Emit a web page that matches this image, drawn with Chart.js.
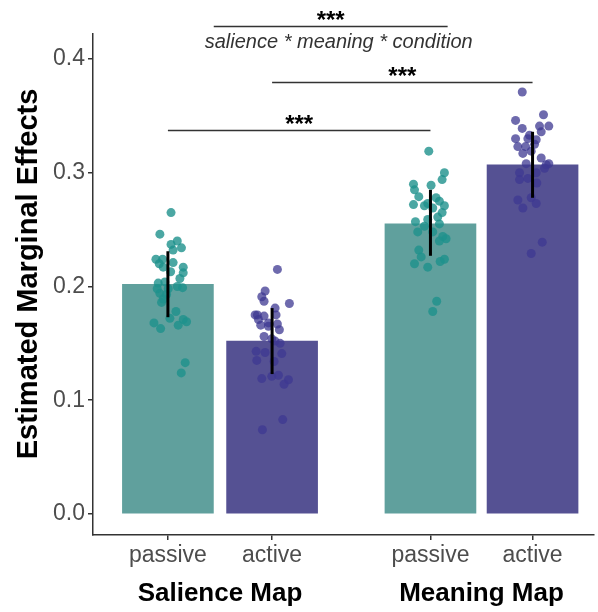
<!DOCTYPE html>
<html>
<head>
<meta charset="utf-8">
<script src="https://cdn.jsdelivr.net/npm/chart.js@4.4.1/dist/chart.umd.min.js"></script>
<style>
  html, body { margin: 0; padding: 0; background: #fff; }
</style>
</head>
<body>
<canvas id="myChart" width="598" height="612"></canvas>
<script>
// bars (estimated marginal means) and error bars
const mapNames = ['Salience Map', 'Meaning Map']
const condNames = ['passive', 'active', 'passive', 'active']
const means = [0.202, 0.152, 0.255, 0.307]
const errLow = [0.173, 0.123, 0.227, 0.278]
const errHigh = [0.231, 0.181, 0.285, 0.336]
const yTicks = [0.0, 0.1, 0.2, 0.3, 0.4]
const yTitle = 'Estimated Marginal Effects'

// per-subject points: value and horizontal jitter
const salPassiveY = [0.265, 0.246, 0.240, 0.237, 0.234, 0.232, 0.224, 0.224, 0.220, 0.221, 0.217, 0.217, 0.213, 0.212, 0.207, 0.203, 0.204, 0.200, 0.199, 0.194, 0.193, 0.189, 0.186, 0.178, 0.168, 0.163, 0.172, 0.171, 0.169, 0.166, 0.133, 0.124, 0.198, 0.198]
const salPassiveJit = [0.03, -0.077, 0.09, 0.03, 0.13, 0.05, -0.115, -0.051, -0.083, 0.05, -0.045, 0.147, 0.026, 0.147, 0.115, -0.093, -0.029, 0.09, 0.141, -0.077, -0.013, -0.045, -0.061, 0.077, -0.134, -0.07, 0.019, 0.147, 0.179, 0.099, 0.166, 0.128, -0.103, 0.003]
const salActiveY = [0.215, 0.196, 0.191, 0.187, 0.181, 0.185, 0.175, 0.174, 0.175, 0.171, 0.168, 0.166, 0.167, 0.162, 0.156, 0.154, 0.152, 0.150, 0.143, 0.142, 0.141, 0.135, 0.134, 0.119, 0.121, 0.122, 0.118, 0.114, 0.083, 0.074, 0.165, 0.175]
const salActiveJit = [0.051, -0.067, -0.099, -0.077, 0.029, 0.166, -0.163, -0.077, 0.038, -0.131, -0.035, -0.109, 0.051, 0.07, -0.077, -0.003, 0.029, 0.077, -0.153, -0.067, 0.093, -0.147, 0.019, -0.099, -0.003, 0.061, 0.157, 0.115, 0.102, -0.093, -0.035, -0.141]
const meanPassiveY = [0.319, 0.300, 0.294, 0.290, 0.289, 0.285, 0.279, 0.278, 0.275, 0.272, 0.271, 0.271, 0.269, 0.265, 0.261, 0.259, 0.257, 0.253, 0.255, 0.248, 0.248, 0.244, 0.242, 0.240, 0.232, 0.226, 0.224, 0.222, 0.220, 0.217, 0.187, 0.178, 0.273]
const meanPassiveJit = [-0.016, 0.134, 0.112, -0.163, 0.006, -0.153, -0.112, 0.054, 0.086, -0.163, -0.058, 0.134, 0.022, 0.112, 0.07, -0.026, -0.144, -0.058, 0.086, -0.122, 0.022, 0.118, 0.15, 0.086, -0.112, -0.089, 0.134, 0.093, -0.153, -0.026, 0.06, 0.022, -0.026]
const meanActiveY = [0.371, 0.351, 0.346, 0.341, 0.341, 0.339, 0.336, 0.330, 0.333, 0.329, 0.323, 0.323, 0.325, 0.317, 0.319, 0.313, 0.308, 0.307, 0.308, 0.300, 0.300, 0.304, 0.294, 0.295, 0.291, 0.276, 0.278, 0.273, 0.269, 0.239, 0.229, 0.330]
const meanActiveJit = [-0.099, 0.105, -0.163, 0.156, 0.067, -0.099, 0.083, -0.163, -0.029, 0.035, -0.141, -0.067, 0.019, -0.093, -0.013, 0.083, -0.061, 0.131, 0.156, -0.125, 0.035, 0.115, -0.125, -0.045, 0.041, -0.141, -0.013, 0.035, -0.093, 0.093, -0.013, -0.045]

// significance brackets
const sigLabels = ['***', '***', '***']
const sigFrom = [1.44, 2, 1]
const sigTo = [3.685, 4.5, 3.52]
const sigY = [0.429, 0.380, 0.338]
const termLabel = 'salience * meaning * condition'

const xSlot = [1, 2, 3.52, 4.5]
const FONT = "'Liberation Sans', Arial, Helvetica, sans-serif"
const barColors = ['#60a09d', '#555193', '#60a09d', '#555193']
const dotColors = ['rgba(30,145,140,0.8)', 'rgba(62,56,146,0.75)', 'rgba(30,145,140,0.8)', 'rgba(62,56,146,0.75)']

function dots(vals, jit, i) {
    return {
        type: 'scatter',
        data: vals.map((v, k) => ({ x: xSlot[i] + jit[k], y: v })),
        backgroundColor: dotColors[i],
        borderWidth: 0,
        pointRadius: 4.5,
        pointHoverRadius: 4.5,
        order: 1
    }
}

const extras = {
    id: 'extras',
    afterDatasetsDraw(chart) {
        const { ctx, scales: { x, y } } = chart
        ctx.save()
        ctx.strokeStyle = '#000'
        ctx.lineWidth = 3
        means.forEach((m, i) => {
            const px = x.getPixelForValue(xSlot[i])
            ctx.beginPath()
            ctx.moveTo(px, y.getPixelForValue(errLow[i]))
            ctx.lineTo(px, y.getPixelForValue(errHigh[i]))
            ctx.stroke()
        })
        ctx.restore()
    },
    afterDraw(chart) {
        const { ctx, scales: { x, y } } = chart
        ctx.save()
        ctx.textAlign = 'center'
        sigLabels.forEach((lab, i) => {
            const x0 = x.getPixelForValue(sigFrom[i])
            const x1 = x.getPixelForValue(sigTo[i])
            const py = Math.round(y.getPixelForValue(sigY[i])) + 0.5
            ctx.strokeStyle = '#333'
            ctx.lineWidth = 1.5
            ctx.beginPath()
            ctx.moveTo(x0, py)
            ctx.lineTo(x1, py)
            ctx.stroke()
            ctx.fillStyle = '#000'
            ctx.font = 'bold 24px ' + FONT
            ctx.textBaseline = 'alphabetic'
            ctx.fillText(lab, (x0 + x1) / 2, py + 1)
            if (i === 0) {
                ctx.fillStyle = '#333'
                ctx.font = 'italic 20px ' + FONT
                ctx.fillText(termLabel, (x0 + x1) / 2 + 8, py + 21)
            }
        })
        // group labels under the axis
        ctx.fillStyle = '#000'
        ctx.font = 'bold 26px ' + FONT
        mapNames.forEach((name, g) => {
            const cx = (x.getPixelForValue(xSlot[g * 2]) + x.getPixelForValue(xSlot[g * 2 + 1])) / 2
            ctx.fillText(name, cx, 601)
        })
        // y axis title
        ctx.translate(37, 274)
        ctx.rotate(-Math.PI / 2)
        ctx.font = 'bold 29px ' + FONT
        ctx.fillText(yTitle, 0, 0)
        ctx.restore()
    }
}

const ctx = document.getElementById('myChart')
const myChart = new Chart(ctx, {
    type: 'bar',
    data: {
        datasets: [
            {
                type: 'bar',
                data: means.map((m, i) => ({ x: xSlot[i], y: m })),
                backgroundColor: barColors,
                barThickness: 91,
                order: 2
            },
            dots(salPassiveY, salPassiveJit, 0),
            dots(salActiveY, salActiveJit, 1),
            dots(meanPassiveY, meanPassiveJit, 2),
            dots(meanActiveY, meanActiveJit, 3)
        ]
    },
    options: {
        responsive: false,
        animation: false,
        layout: { padding: { top: 34, right: 0, bottom: 0, left: 0 } },
        plugins: { legend: { display: false }, tooltip: { enabled: false } },
        scales: {
            x: {
                type: 'linear',
                offset: false,
                min: 0.281,
                max: 5.085,
                afterBuildTicks: s => { s.ticks = xSlot.map(v => ({ value: v })) },
                afterFit: s => { s.height = 77 },
                ticks: {
                    callback: (v, i) => condNames[i],
                    autoSkip: false,
                    maxRotation: 0,
                    padding: 2,
                    color: '#4d4d4d',
                    font: { family: FONT, size: 23 }
                },
                grid: { offset: false, drawOnChartArea: false, tickLength: 5, color: '#333', lineWidth: 1.5 },
                border: { display: true, color: '#333', width: 1.5 }
            },
            y: {
                min: -0.0185,
                max: 0.422,
                afterBuildTicks: s => { s.ticks = yTicks.map(v => ({ value: v })) },
                afterFit: s => { s.width = 93 },
                ticks: {
                    callback: v => v.toFixed(1),
                    padding: 3,
                    color: '#4d4d4d',
                    font: { family: FONT, size: 23 }
                },
                grid: { drawOnChartArea: false, tickLength: 5, color: '#333', lineWidth: 1.5 },
                border: { display: true, color: '#333', width: 1.5 }
            }
        }
    },
    plugins: [extras]
})
</script>
</body>
</html>
